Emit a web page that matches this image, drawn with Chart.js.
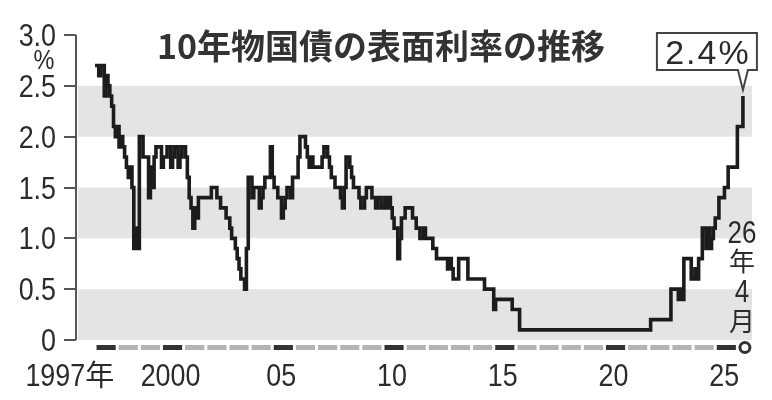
<!DOCTYPE html>
<html>
<head>
<meta charset="utf-8">
<script src="https://cdn.jsdelivr.net/npm/chart.js@4.4.1/dist/chart.umd.min.js"></script>
<style>
  html, body { margin: 0; padding: 0; background: #fff; }
  #wrap { width: 772px; height: 400px; position: relative; }
</style>
</head>
<body>
<div id="wrap"><canvas id="chart" width="772" height="400"></canvas></div>
<script>
// 10-year JGB coupon (%), one value per month starting Jan 1997
const START_YEAR = 1997;
const rates1997_2005 = [
  2.7, 2.7, 2.6, 2.7, 2.7, 2.4, 2.6, 2.5, 2.4, 2.3, 2.1, 2.0, // 1997
  2.1, 1.9, 2.0, 1.9, 1.8, 1.7, 1.6, 1.7, 1.5, 0.9, 1.1, 0.9, // 1998
  2.0, 2.0, 1.8, 1.8, 1.8, 1.4, 1.7, 1.5, 1.8, 1.9, 1.9, 1.9, // 1999
  1.7, 1.8, 1.8, 1.9, 1.9, 1.7, 1.8, 1.9, 1.9, 1.7, 1.8, 1.9, // 2000
  1.9, 1.8, 1.6, 1.4, 1.3, 1.1, 1.3, 1.2, 1.4, 1.4, 1.4, 1.4, // 2001
  1.4, 1.4, 1.4, 1.5, 1.5, 1.5, 1.4, 1.4, 1.3, 1.3, 1.3, 1.2, // 2002
  1.2, 1.1, 1.0, 1.0, 0.9, 0.8, 0.7, 0.6, 0.6, 0.5, 0.9, 1.6, // 2003
  1.6, 1.4, 1.5, 1.5, 1.5, 1.3, 1.4, 1.5, 1.6, 1.6, 1.6, 1.9, // 2004
  1.6, 1.5, 1.5, 1.4, 1.4, 1.2, 1.3, 1.4, 1.5, 1.5, 1.4, 1.6  // 2005
];
const rates2006_2015 = [
  1.6, 1.6, 1.8, 2.0, 2.0, 2.0, 1.9, 1.8, 1.7, 1.8, 1.7, 1.7, // 2006
  1.7, 1.7, 1.7, 1.8, 1.9, 1.9, 1.8, 1.7, 1.6, 1.6, 1.5, 1.5, // 2007
  1.5, 1.4, 1.3, 1.5, 1.8, 1.8, 1.7, 1.6, 1.5, 1.5, 1.5, 1.4, // 2008
  1.3, 1.3, 1.4, 1.5, 1.5, 1.5, 1.4, 1.4, 1.3, 1.4, 1.4, 1.3, // 2009
  1.3, 1.4, 1.3, 1.4, 1.3, 1.2, 1.1, 1.1, 0.8, 1.0, 1.2, 1.2, // 2010
  1.3, 1.3, 1.3, 1.3, 1.2, 1.2, 1.1, 1.1, 1.0, 1.0, 1.1, 1.0, // 2011
  1.0, 1.0, 1.0, 0.9, 0.9, 0.8, 0.8, 0.8, 0.8, 0.8, 0.8, 0.7, // 2012
  0.8, 0.7, 0.6, 0.6, 0.6, 0.8, 0.8, 0.8, 0.8, 0.8, 0.6, 0.6, // 2013
  0.6, 0.6, 0.6, 0.6, 0.6, 0.6, 0.6, 0.5, 0.5, 0.5, 0.5, 0.5, // 2014
  0.3, 0.4, 0.4, 0.4, 0.4, 0.4, 0.4, 0.4, 0.4, 0.4, 0.3, 0.3  // 2015
];
const rates2016_2026 = [
  0.3, 0.3, 0.1, 0.1, 0.1, 0.1, 0.1, 0.1, 0.1, 0.1, 0.1, 0.1, // 2016
  0.1, 0.1, 0.1, 0.1, 0.1, 0.1, 0.1, 0.1, 0.1, 0.1, 0.1, 0.1, // 2017
  0.1, 0.1, 0.1, 0.1, 0.1, 0.1, 0.1, 0.1, 0.1, 0.1, 0.1, 0.1, // 2018
  0.1, 0.1, 0.1, 0.1, 0.1, 0.1, 0.1, 0.1, 0.1, 0.1, 0.1, 0.1, // 2019
  0.1, 0.1, 0.1, 0.1, 0.1, 0.1, 0.1, 0.1, 0.1, 0.1, 0.1, 0.1, // 2020
  0.1, 0.1, 0.1, 0.1, 0.1, 0.1, 0.1, 0.1, 0.1, 0.1, 0.1, 0.1, // 2021
  0.1, 0.2, 0.2, 0.2, 0.2, 0.2, 0.2, 0.2, 0.2, 0.2, 0.2, 0.2, // 2022
  0.5, 0.5, 0.5, 0.5, 0.4, 0.5, 0.4, 0.8, 0.8, 0.8, 0.8, 0.6, // 2023
  0.6, 0.7, 0.6, 0.8, 0.8, 1.1, 1.1, 0.9, 1.1, 0.9, 1.0, 1.1, // 2024
  1.2, 1.2, 1.4, 1.4, 1.4, 1.5, 1.5, 1.7, 1.7, 1.7, 1.7, 1.7, // 2025
  2.1, 2.1, 2.1, 2.4                                          // 2026 (to April)
];

const yTicks = [0, 0.5, 1.0, 1.5, 2.0, 2.5, 3.0];
const yTickLabels = ['0', '0.5', '1.0', '1.5', '2.0', '2.5', '3.0'];
const bandRanges = [[0, 0.5], [1.0, 1.5], [2.0, 2.5]];
const yearTicks = [1997, 2000, 2005, 2010, 2015, 2020, 2025];
const yearLabels = ['1997年', '2000', '05', '10', '15', '20', '25'];
const FIRST_BAR_YEAR = 1997;
const LAST_BAR_YEAR = 2025;

const TITLE = '10年物国債の表面利率の推移';
const UNIT = '%';
const LAST_NOTE = '2.4%';
const END_NOTE = ['26', '年', '4', '月'];

const INK = '#2b2b2b';
const BAND = '#e4e4e4';
const NUM_FONT = "'Liberation Sans', Arial, 'Noto Sans CJK JP', sans-serif";
const CJK_FONT = "'Noto Sans CJK JP', sans-serif";
const NARROW = 0.84; // horizontal squeeze for the condensed-looking digits

const allRates = [...rates1997_2005, ...rates2006_2015, ...rates2016_2026];
const points = allRates.map((v, i) => ({ x: START_YEAR + i / 12, y: v }));

function narrowText(ctx, text, x, y, align) {
  ctx.save();
  ctx.translate(x, y);
  ctx.scale(NARROW, 1);
  ctx.textAlign = align;
  ctx.fillText(text, 0, 0);
  ctx.restore();
}

const decor = {
  id: 'decor',
  beforeDatasetsDraw(chart) {
    const { ctx, chartArea: a, scales: { y } } = chart;
    ctx.save();
    ctx.fillStyle = BAND;
    bandRanges.forEach(([lo, hi]) => {
      const top = y.getPixelForValue(hi);
      const bot = y.getPixelForValue(lo);
      ctx.fillRect(a.left + 1, top, a.right - a.left - 1, bot - top);
    });
    ctx.restore();
  },
  afterDraw(chart) {
    const { ctx, chartArea: a, scales: { x, y } } = chart;
    ctx.save();

    // y axis with left-pointing ticks
    ctx.strokeStyle = '#555';
    ctx.lineWidth = 2;
    ctx.beginPath();
    ctx.moveTo(a.left - 1, y.getPixelForValue(3.0));
    ctx.lineTo(a.left - 1, y.getPixelForValue(0));
    yTicks.forEach(v => {
      const py = Math.round(y.getPixelForValue(v));
      ctx.moveTo(a.left - 13, py);
      ctx.lineTo(a.left - 1, py);
    });
    ctx.stroke();

    ctx.fillStyle = INK;
    ctx.font = `32px ${NUM_FONT}`;
    ctx.textBaseline = 'alphabetic';
    yTicks.forEach((v, i) => {
      narrowText(ctx, yTickLabels[i], a.left - 21, y.getPixelForValue(v) + 11, 'right');
    });
    ctx.font = `28px ${NUM_FONT}`;
    narrowText(ctx, UNIT, 44, y.getPixelForValue(3.0) + 34, 'center');

    // timeline bar under the plot
    const barY = 345;
    for (let yr = FIRST_BAR_YEAR; yr <= LAST_BAR_YEAR; yr++) {
      const x0 = x.getPixelForValue(yr) + 1.5;
      const x1 = x.getPixelForValue(yr + 1) - 1.5;
      ctx.fillStyle = (yr % 5 === 0 || yr === FIRST_BAR_YEAR) ? '#333' : '#b4b4b4';
      ctx.fillRect(x0, barY, x1 - x0, 5);
    }
    const last = points[points.length - 1];
    ctx.beginPath();
    ctx.arc(x.getPixelForValue(last.x) + 2, barY + 2.5, 5, 0, Math.PI * 2);
    ctx.fillStyle = '#fff';
    ctx.fill();
    ctx.lineWidth = 3;
    ctx.strokeStyle = '#333';
    ctx.stroke();

    // year labels
    ctx.fillStyle = INK;
    ctx.font = `32px ${NUM_FONT}`;
    ctx.textBaseline = 'alphabetic';
    yearTicks.forEach((yr, i) => {
      if (i === 0) {
        ctx.save();
        ctx.textAlign = 'right';
        ctx.font = `29px ${CJK_FONT}`;
        const xr = x.getPixelForValue(yr + 1) - 3;
        ctx.fillText('年', xr, 386);
        const w = ctx.measureText('年').width;
        ctx.restore();
        narrowText(ctx, yearLabels[i].replace('年', ''), xr - w, 386, 'right');
      } else {
        narrowText(ctx, yearLabels[i], x.getPixelForValue(yr + 0.5) - 2, 386, 'center');
      }
    });

    // title
    ctx.font = `bold 34px ${CJK_FONT}`;
    ctx.textAlign = 'center';
    ctx.textBaseline = 'middle';
    ctx.fillStyle = '#333';
    ctx.fillText(TITLE, 381, 46);

    // callout for the latest value
    const px = x.getPixelForValue(last.x);
    const py = y.getPixelForValue(last.y);
    const bx0 = px - 86, bx1 = px + 14, by0 = 33, by1 = 70;
    ctx.lineWidth = 2;
    ctx.strokeStyle = '#444';
    ctx.fillStyle = '#fff';
    ctx.beginPath();
    ctx.moveTo(bx0, by0);
    ctx.lineTo(bx1, by0);
    ctx.lineTo(bx1, by1);
    ctx.lineTo(px + 5, by1);
    ctx.lineTo(px, py - 6);
    ctx.lineTo(px - 5, by1);
    ctx.lineTo(bx0, by1);
    ctx.closePath();
    ctx.fill();
    ctx.stroke();
    ctx.fillStyle = INK;
    ctx.font = `34px ${NUM_FONT}`;
    ctx.textAlign = 'center';
    ctx.textBaseline = 'alphabetic';
    if ('letterSpacing' in ctx) ctx.letterSpacing = '2px';
    ctx.fillText(LAST_NOTE, (bx0 + bx1) / 2 + 1, by1 - 6);
    if ('letterSpacing' in ctx) ctx.letterSpacing = '0px';

    // vertical date note at the right
    const nx = 742;
    const ny = [243, 271, 302, 331];
    END_NOTE.forEach((t, i) => {
      if (/[0-9]/.test(t)) {
        ctx.font = `31px ${NUM_FONT}`;
        narrowText(ctx, t, nx, ny[i], 'center');
      } else {
        ctx.font = `26px ${CJK_FONT}`;
        ctx.textAlign = 'center';
        ctx.fillText(t, nx, ny[i]);
      }
    });

    ctx.restore();
  }
};

new Chart(document.getElementById('chart'), {
  type: 'line',
  data: {
    datasets: [{
      data: points,
      stepped: true,
      borderColor: '#1c1c1c',
      borderWidth: 3.6,
      borderJoinStyle: 'miter',
      pointRadius: 0,
      fill: false
    }]
  },
  options: {
    responsive: false,
    animation: false,
    devicePixelRatio: 1,
    layout: { padding: { left: 77, right: 20, top: 35, bottom: 60 } },
    plugins: { legend: { display: false }, tooltip: { enabled: false } },
    scales: {
      x: { type: 'linear', min: 1996.185, max: 2026.66, display: false },
      y: { min: 0, max: 3, display: false }
    }
  },
  plugins: [decor]
});
</script>
</body>
</html>
